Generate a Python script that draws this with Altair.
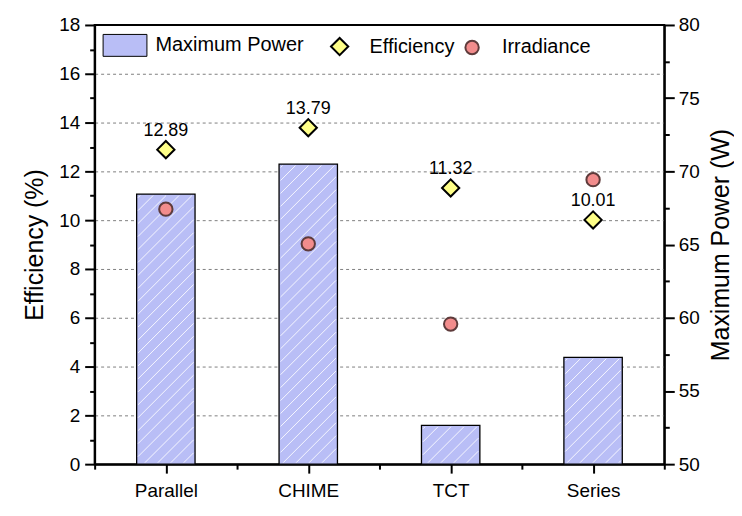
import altair as alt
import pandas as pd
import numpy as np

# ---------------- data ----------------
categories = ["Parallel", "CHIME", "TCT", "Series"]
efficiency = [12.89, 13.79, 11.32, 10.01]          # left axis (%)
irradiance = [10.45, 9.03, 5.74, 11.66]            # drawn against left axis
max_power = [68.45, 70.5, 52.65, 57.3]             # right axis (W)

eff_major = list(range(0, 19, 2))
eff_minor = list(range(1, 18, 2))
power_major = list(range(50, 81, 5))
power_minor = [52.5 + 5 * k for k in range(6)]

# ---------------- layout / style ----------------
W, H = 572, 441
EFF_DOMAIN = [0, 18]
POW_DOMAIN = [50, 80]
X_DOMAIN = [-0.5, len(categories) - 0.5]
HALF = 0.205
FONT = "Liberation Sans"

idx = list(range(len(categories)))
bars_df = pd.DataFrame({
    "idx": idx, "category": categories, "power": max_power,
    "bar_series": ["Maximum Power"] * len(categories),
})
bars_df["x0"] = bars_df["idx"] - HALF
bars_df["x1"] = bars_df["idx"] + HALF

points_df = pd.DataFrame({
    "idx": idx * 2,
    "category": categories * 2,
    "value": efficiency + irradiance,
    "series": ["Efficiency"] * len(categories) + ["Irradiance"] * len(categories),
})
labels_df = pd.DataFrame({"idx": idx, "value": efficiency})

# hatch lines (decoration) derived from the bar values
px_x = W / (X_DOMAIN[1] - X_DOMAIN[0])
px_y = H / (POW_DOMAIN[1] - POW_DOMAIN[0])
bw = 2 * HALF * px_x
spacing = 13.0
hatch_rows = []
for i, p in zip(idx, max_power):
    h = (p - POW_DOMAIN[0]) * px_y
    for c in np.arange(-h + 5, bw, spacing):
        u0 = max(c + 1.5, 1.5)
        u1 = min(bw - 1.5, h - 1.5 + c)
        if u1 - u0 < 1:
            continue
        hatch_rows.append({
            "hx": i - HALF + u0 / px_x, "hx2": i - HALF + u1 / px_x,
            "hy": POW_DOMAIN[0] + (u0 - c) / px_y, "hy2": POW_DOMAIN[0] + (u1 - c) / px_y,
        })
hatch_df = pd.DataFrame(hatch_rows)

x_scale = alt.Scale(domain=X_DOMAIN, nice=False, zero=False)
eff_scale = alt.Scale(domain=EFF_DOMAIN, nice=False, zero=False)
pow_scale = alt.Scale(domain=POW_DOMAIN, nice=False, zero=False)

axis_style = dict(
    labelFont=FONT, titleFont=FONT, labelFontSize=19, titleFontSize=25,
    titleFontWeight="normal", labelColor="black", titleColor="black",
    domainColor="black", domainWidth=2, tickColor="black", tickWidth=2,
    labelOverlap=False,
)
minor_style = dict(labels=False, domain=False, grid=False, title=None,
                   tickColor="black", tickWidth=2, tickSize=5)

cat_array = "[" + ",".join("'" + c + "'" for c in categories) + "]"
x_axis = alt.Axis(
    orient="bottom", title=None, values=idx, tickSize=9,
    labelExpr=cat_array + "[datum.value]", labelFlush=False,
    labelPadding=8, grid=False, **axis_style,
)
x_minor_axis = alt.Axis(orient="bottom", values=[i - 0.5 for i in range(len(categories) + 1)], **minor_style)

left_axis = alt.Axis(
    orient="left", title="Efficiency (%)", values=eff_major, tickSize=10,
    labelPadding=5, grid=True, gridColor="#7f7f7f", gridDash=[3, 3], gridWidth=1,
    gridOpacity={"condition": {"test": "datum.value > 0 && datum.value < 18", "value": 1}, "value": 0},
    titleX=-60, titleY=H / 2, titleAngle=270, titleBaseline="middle", titleAlign="center",
    **axis_style,
)
left_minor_axis = alt.Axis(orient="left", values=eff_minor, **minor_style)

right_axis = alt.Axis(
    orient="right", title="Maximum Power (W)", values=power_major, tickSize=10,
    labelPadding=4, grid=False,
    titleX=56, titleY=H / 2, titleAngle=270, titleBaseline="middle", titleAlign="center",
    **axis_style,
)
right_minor_axis = alt.Axis(orient="right", values=power_minor, **minor_style)

# ---------------- right group: bars ----------------
bar_legend = alt.Legend(
    orient="none", legendX=8, legendY=-2, title=None,
    symbolType="M-1,-0.5H1V0.5H-1Z", symbolSize=1936,
    symbolStrokeColor="black", symbolStrokeWidth=1, symbolOpacity=1,
    labelFont=FONT, labelFontSize=20, labelColor="black", labelOffset=8, padding=0,
)
bars = alt.Chart(bars_df).mark_bar(stroke="black", strokeWidth=1.3, opacity=1).encode(
    x=alt.X("x0:Q", scale=x_scale, axis=None),
    x2="x1:Q",
    y=alt.Y("power:Q", scale=pow_scale, axis=right_axis),
    y2=alt.datum(POW_DOMAIN[0]),
    color=alt.Color("bar_series:N", scale=alt.Scale(domain=["Maximum Power"], range=["#b9bef6"]), legend=bar_legend),
)
hatch = alt.Chart(hatch_df).mark_rule(color="white", strokeWidth=1, opacity=0.85).encode(
    x=alt.X("hx:Q", scale=x_scale, axis=None),
    x2="hx2:Q",
    y=alt.Y("hy:Q", scale=pow_scale, axis=right_minor_axis),
    y2="hy2:Q",
)
right_group = alt.layer(bars, hatch).resolve_axis(y="independent")

# ---------------- left group: points + labels ----------------
series_domain = ["Efficiency", "Irradiance"]
pt_legend = alt.Legend(
    orient="none", legendX=236, legendY=11.5, direction="horizontal", title=None,
    labelFont=FONT, labelFontSize=20, labelColor="black", labelOffset=20,
    columnPadding=6, padding=0, symbolStrokeWidth=2, symbolOpacity=1,
)
points = alt.Chart(points_df).mark_point(filled=True, strokeWidth=2, opacity=1).encode(
    x=alt.X("idx:Q", scale=x_scale, axis=x_axis),
    y=alt.Y("value:Q", scale=eff_scale, axis=left_axis),
    fill=alt.Fill("series:N", scale=alt.Scale(domain=series_domain, range=["#ffff88", "#f28c8c"]), legend=pt_legend),
    stroke=alt.Stroke("series:N", scale=alt.Scale(domain=series_domain, range=["#000000", "#5e3b3b"]), legend=pt_legend),
    shape=alt.Shape("series:N", scale=alt.Scale(domain=series_domain, range=["diamond", "circle"]), legend=pt_legend),
    size=alt.Size("series:N", scale=alt.Scale(domain=series_domain, range=[300, 180]), legend=pt_legend),
)
labels = alt.Chart(labels_df).mark_text(dy=-19, fontSize=18, font=FONT, color="black", baseline="middle").encode(
    x=alt.X("idx:Q", scale=x_scale, axis=x_minor_axis),
    y=alt.Y("value:Q", scale=eff_scale, axis=left_minor_axis),
    text=alt.Text("value:Q", format=".2f"),
)
left_group = alt.layer(points, labels).resolve_axis(x="independent", y="independent")

chart = alt.layer(right_group, left_group).resolve_scale(y="independent").properties(
    width=W, height=H, autosize="none",
    padding={"left": 87, "top": 16, "right": 70, "bottom": 45},
    background="white",
).configure(font=FONT).configure_view(stroke="black", strokeWidth=2)

chart.save("out.html", embed_options={"renderer": "svg", "actions": False})
